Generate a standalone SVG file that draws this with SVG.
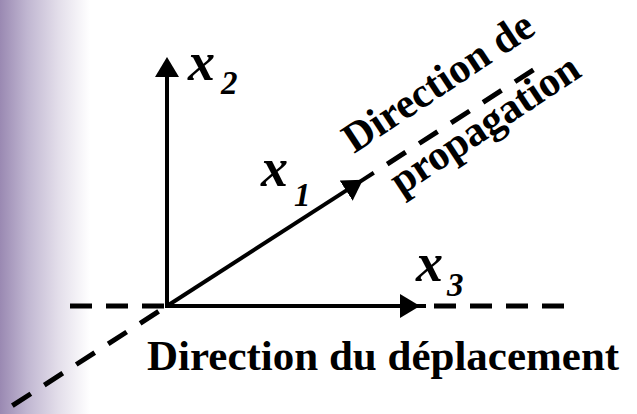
<svg xmlns="http://www.w3.org/2000/svg" width="637" height="414" viewBox="0 0 637 414">
<defs>
<linearGradient id="bg" x1="0" y1="0" x2="1" y2="0">
<stop offset="0" stop-color="#9a89b2"/>
<stop offset="0.3" stop-color="#c0b6d1"/>
<stop offset="0.65" stop-color="#e3deea"/>
<stop offset="1" stop-color="#ffffff"/>
</linearGradient>
<marker id="ah" markerUnits="userSpaceOnUse" viewBox="0 -12 20 24" refX="12" refY="0" markerWidth="20" markerHeight="24" orient="auto">
<path d="M0,-12 L20,0 L0,12 z" fill="#000"/>
</marker>
<style>
.solid{stroke:#000;stroke-width:4;fill:none}
.dash{stroke:#000;stroke-width:5;fill:none;stroke-dasharray:22 14}
.ddash{stroke:#000;stroke-width:5;fill:none;stroke-dasharray:22 16}
.lab{font-weight:bold;fill:#000}
.var{font-weight:bold;font-style:italic;fill:#000}
</style>
</defs>
<rect width="637" height="414" fill="#fff"/>
<rect width="90" height="414" fill="url(#bg)"/>
<g id="connectors">
<path class="solid" d="M167,308 V65" marker-end="url(#ah)"/>
<path class="solid" d="M165,306 H412" marker-end="url(#ah)"/>
<path class="solid" d="M412,306 H426"/>
<path class="solid" d="M167,306 L356.2,184.1" marker-end="url(#ah)"/>
<path class="solid" d="M356.2,184.1 L373.8,172.7"/>
<path class="dash" d="M70,306 H165"/>
<path class="dash" d="M434,306 H577"/>
<path class="ddash" d="M387.2,164.1 L533.5,69.8"/>
<path class="ddash" d="M158.6,311.4 L10.6,406.8"/>
</g>
<g font-family="Liberation Serif, Times New Roman, serif">
<g id="x2"><text class="var" x="188" y="80" font-size="54">x</text><text class="var" x="221" y="94" font-size="33">2</text></g>
<g id="x1"><text class="var" x="261" y="186" font-size="54">x</text><text class="var" x="294" y="206" font-size="33">1</text></g>
<g id="x3"><text class="var" x="416" y="281" font-size="54">x</text><text class="var" x="447" y="296" font-size="33">3</text></g>
<g id="label-propagation">
<text class="lab" font-size="42" transform="translate(354,154) rotate(-33.5)">Direction de</text>
<text class="lab" font-size="42" transform="translate(401,196) rotate(-33.5)">propagation</text>
</g>
<g id="label-deplacement"><text class="lab" x="147" y="370" font-size="43">Direction du déplacement</text></g>
</g>
</svg>
